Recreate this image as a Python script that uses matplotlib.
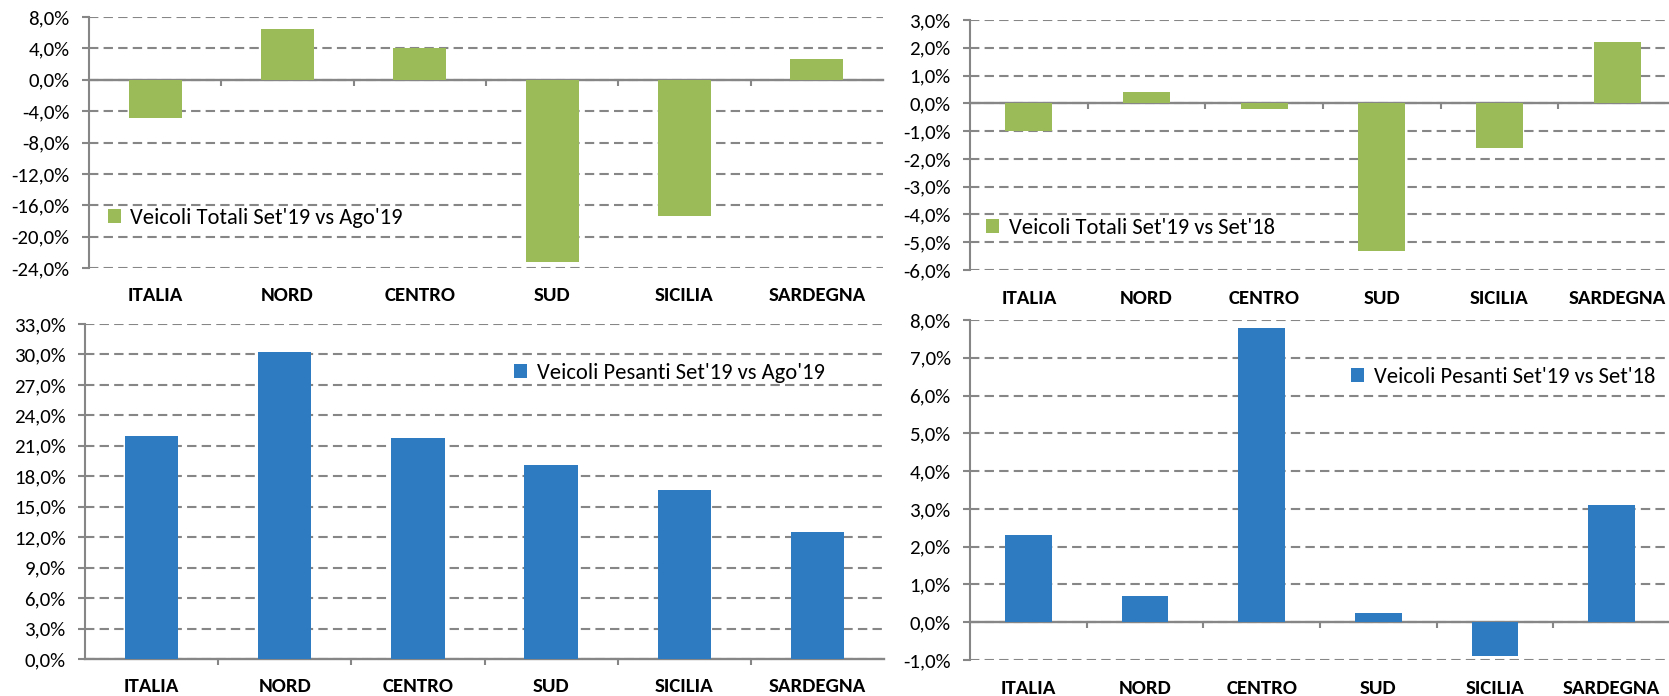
import matplotlib
matplotlib.use('Agg')
import matplotlib.pyplot as plt
import matplotlib.transforms as mtransforms
from matplotlib import font_manager as fm
from matplotlib.ticker import FuncFormatter, MultipleLocator

# Calibri-like font: Carlito if present, otherwise Lato (slightly smaller)
try:
    fm.findfont(fm.FontProperties(family='Carlito'), fallback_to_default=False)
    FAM, SCALA = 'Carlito', 1.0
except Exception:
    FAM, SCALA = 'Lato', 0.89
plt.rcParams['font.family'] = [FAM, 'DejaVu Sans']

# dati (variazioni %)
regioni = ['ITALIA', 'NORD', 'CENTRO', 'SUD', 'SICILIA', 'SARDEGNA']
totali_mese = [-4.9, 6.5, 4.0, -23.2, -17.4, 2.6]
totali_anno = [-1.0, 0.4, -0.2, -5.3, -1.6, 2.2]
pesanti_mese = [22.0, 30.2, 21.8, 19.1, 16.6, 12.5]
pesanti_anno = [2.3, 0.7, 7.8, 0.25, -0.9, 3.1]

VERDE = '#9bbb59'
BLU = '#2f7bc2'
GRIGIO = '#868686'
FS = 15 * SCALA
FS_LEG = FS * 1.08
FS_PX = FS_LEG * 100 / 72

W, H = 1669, 696
fig = plt.figure(figsize=(W / 100, H / 100), dpi=100)


def rett(x0, x1, y_top, y_bot):
    # pixel box -> figure fraction
    return [x0 / W, 1 - y_bot / H, (x1 - x0) / W, (y_bot - y_top) / H]


def pannello(rect, valori, colore, etichetta, ylim, passo, leg_px):
    ax = fig.add_axes(rect)
    x = list(range(len(regioni)))
    ax.bar(x, valori, width=0.4, color=colore, label=etichetta, zorder=3)
    ax.set_xlim(-0.5, len(regioni) - 0.5)
    ax.set_ylim(*ylim)
    ax.yaxis.set_major_locator(MultipleLocator(passo))
    ax.yaxis.set_major_formatter(FuncFormatter(lambda v, p: f"{v:.1f}%".replace('.', ',')))
    ax.set_axisbelow(True)
    ax.grid(axis='y', color=GRIGIO, linestyle=(0, (4.5, 2.5)), linewidth=1.5)
    for s in ['top', 'right']:
        ax.spines[s].set_visible(False)
    ax.spines['left'].set_color(GRIGIO)
    ax.spines['left'].set_linewidth(1.5)
    ax.spines['bottom'].set_position(('data', 0))
    ax.spines['bottom'].set_color(GRIGIO)
    ax.spines['bottom'].set_linewidth(1.7)
    ax.set_xticks([i + 0.5 for i in range(len(regioni) - 1)])
    ax.set_xticklabels([])
    ax.tick_params(axis='x', direction='out', length=4.5, width=1.5, color=GRIGIO)
    ax.tick_params(axis='y', direction='out', length=5, width=1.5, color=GRIGIO,
                   labelsize=FS, pad=9)
    trans = mtransforms.blended_transform_factory(ax.transData, ax.transAxes)
    trans = mtransforms.offset_copy(trans, fig=fig, y=-0.28, units='inches')
    for i, r in enumerate(regioni):
        ax.text(i, 0, r, transform=trans, ha='center', va='center',
                fontsize=FS, fontweight='bold')
    ax.legend(loc='center left', bbox_to_anchor=(leg_px[0] / W, 1 - leg_px[1] / H),
              bbox_transform=fig.transFigure, frameon=False, fontsize=FS_LEG,
              handlelength=12.5 / FS_PX, handleheight=12.5 / FS_PX,
              handletextpad=10 / FS_PX, borderpad=0, borderaxespad=0)
    return ax


pannello(rett(89, 883, 17, 268), totali_mese, VERDE,
         "Veicoli Totali Set'19 vs Ago'19", (-24, 8), 4, (108, 218))
pannello(rett(970, 1676, 20, 270), totali_anno, VERDE,
         "Veicoli Totali Set'19 vs Set'18", (-6, 3), 1, (986, 228))
pannello(rett(85, 884, 324, 659), pesanti_mese, BLU,
         "Veicoli Pesanti Set'19 vs Ago'19", (0, 33), 3, (514, 373))
pannello(rett(970, 1670, 320, 660), pesanti_anno, BLU,
         "Veicoli Pesanti Set'19 vs Set'18", (-1, 8), 1, (1351, 377))

fig.savefig('out.png', dpi=100)
